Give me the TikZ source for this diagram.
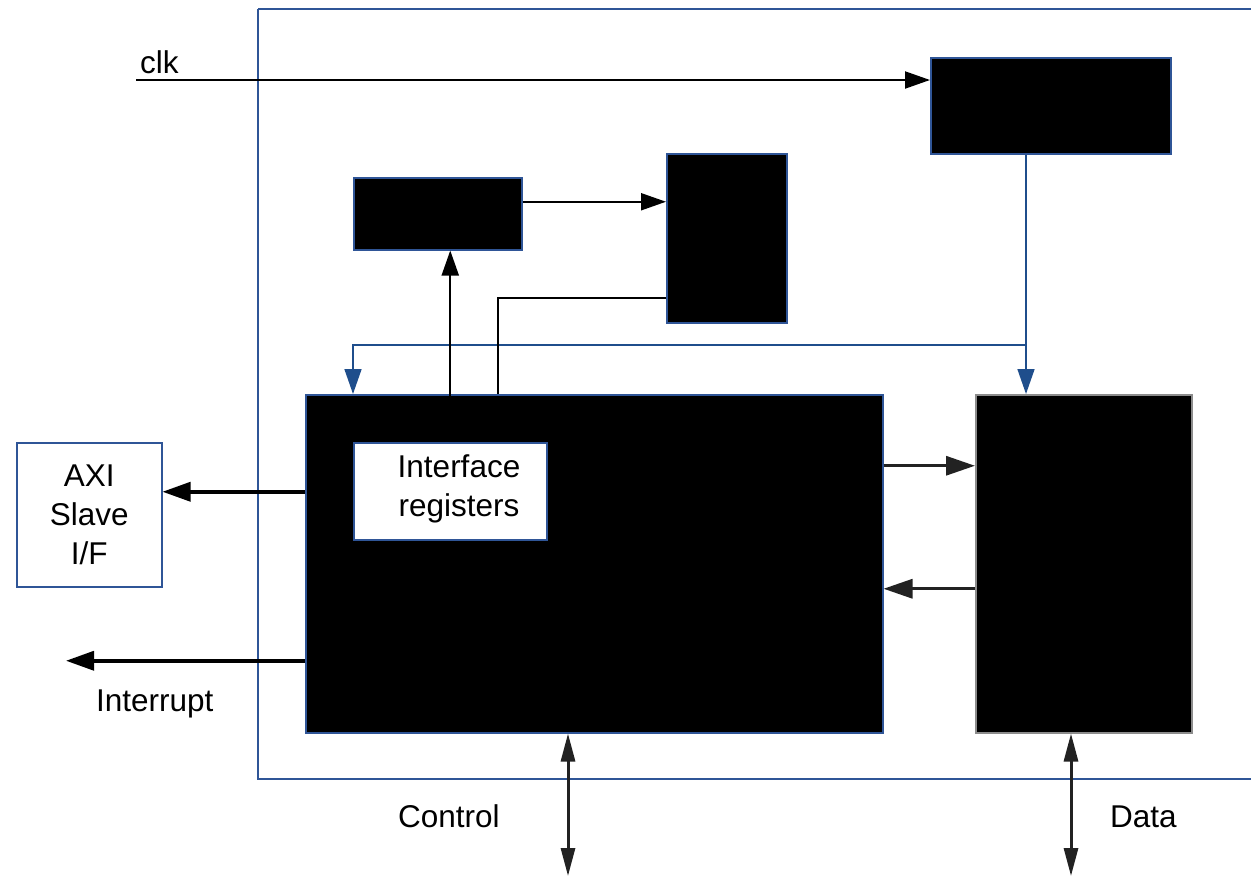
\documentclass[tikz,border=0pt]{standalone}
\usepackage{fontspec}
\setmainfont{Liberation Sans}
\usetikzlibrary{arrows.meta,calc}
\definecolor{frameblue}{RGB}{47,85,151}
\definecolor{linkblue}{RGB}{31,78,140}
\definecolor{arrowgray}{RGB}{34,34,34}
\definecolor{boxgray}{RGB}{140,140,140}

\begin{document}
\begin{tikzpicture}[x=1pt,y=-1pt,
  lbl/.style={font=\fontsize{31.5}{39}\selectfont, inner sep=0pt},
  blk/.style={draw=frameblue, fill=black, line width=1.5pt, inner sep=0pt, anchor=north west},
  wbox/.style={draw=frameblue, fill=white, line width=1.5pt, inner sep=0pt, anchor=north west},
  arr/.style={draw=black, line width=2pt, -{Triangle[length=25pt,width=17pt]}},
  wire/.style={draw=black, line width=2pt},
  bwire/.style={draw=linkblue, line width=1.6pt},
  barr/.style={draw=linkblue, line width=1.6pt, -{Triangle[length=25pt,width=17pt]}},
  tarr/.style={draw=black, line width=3.5pt, -{Triangle[length=28pt,width=19pt]}},
  garr/.style={draw=arrowgray, line width=3.2pt, -{Triangle[length=29pt,width=19pt]}},
  darr/.style={draw=arrowgray, line width=3pt, {Triangle[length=28pt,width=14pt]}-{Triangle[length=28pt,width=14pt]}}
]
\useasboundingbox (0,0) rectangle (1251,876);

% outer frame (right edge runs past the page)
\draw[frameblue, line width=1.5pt] (258,9) -- (1262,9) (258,9) -- (258,779) -- (1262,779);

% blocks
\node[blk, minimum width=240pt, minimum height=96pt] (clkbox) at (930,57) {};
\node[blk, minimum width=168pt, minimum height=72pt] (boxA) at (353,177) {};
\node[blk, minimum width=120pt, minimum height=169pt] (boxB) at (666,153) {};
\node[blk, minimum width=577pt, minimum height=338pt] (main) at (305,394) {};
\node[blk, draw=boxgray, minimum width=216pt, minimum height=338pt] (data) at (975,394) {};
\node[wbox, minimum width=193pt, minimum height=97pt] (regs) at (353,442) {};
\node[lbl, align=center] (regstext) at (459,489) {Interface\\registers};
\node[wbox, minimum width=145pt, minimum height=144pt] (axi) at (16,442) {};
\node[lbl, align=center] (axitext) at (axi.center) {AXI\\Slave\\I/F};

% free ends
\coordinate (clkin) at (136,80);
\coordinate (tap) at (1026,345);
\coordinate (tapl) at (353,345);
\coordinate (irq) at (66,660);
\coordinate (ctl) at (568,876);
\coordinate (dat) at (1071,876);

% labels
\node[lbl, anchor=base west] (clklbl) at (140,73) {clk};
\node[lbl, anchor=base west] (irqlbl) at (96,711) {Interrupt};
\node[lbl, anchor=base west] (ctllbl) at (398,827) {Control};
\node[lbl, anchor=base west] (datlbl) at (1110,827) {Data};

% clock input
\draw[arr] (clkin) -- (clkin -| clkbox.west);

% clock distribution
\draw[bwire] (clkbox.south -| tap) -- (tap);
\draw[barr] (tap) -- (tap |- data.north);
\draw[barr] (tap) -- (tapl) -- (tapl |- main.north);

% upper blocks
\draw[arr] ([yshift=12pt]boxA.east) -- ([yshift=12pt]boxA.east -| boxB.west);
\draw[wire] ([yshift=-59.5pt]boxB.west) -| ([xshift=-96.5pt]main.north);
\draw[arr] (regs.north) -- (regs.north |- boxA.south);

% left side outputs
\draw[tarr] ([yshift=72pt]main.west) -- ([yshift=72pt]main.west -| axi.east);
\draw[tarr] ([yshift=-97pt]main.west) -- ([yshift=-97pt]main.west -| irq);

% main <-> data
\draw[garr] ([yshift=98pt]main.east) -- ([yshift=98pt]main.east -| data.west);
\draw[garr] ([yshift=-25pt]data.west) -- ([yshift=-25pt]data.west -| main.east);

% external buses
\draw[darr] (main.south -| ctl) -- (ctl);
\draw[darr] (data.south -| dat) -- (dat);
\end{tikzpicture}
\end{document}
